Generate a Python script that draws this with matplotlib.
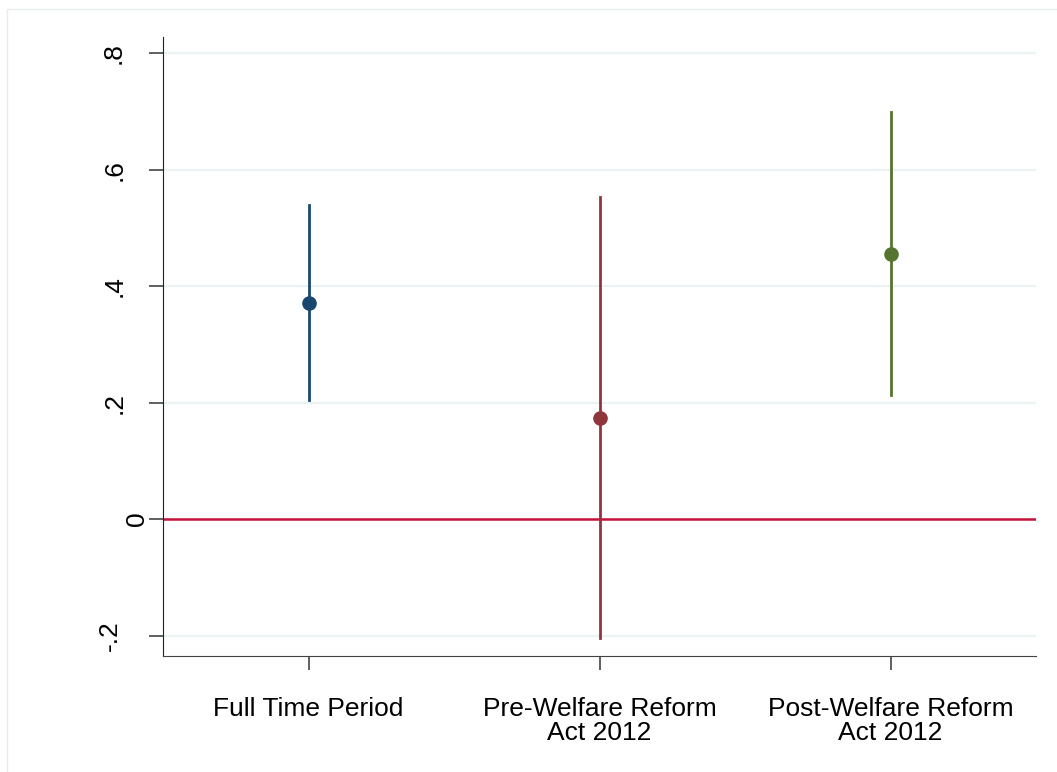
import numpy as np
import matplotlib
matplotlib.use("Agg")
import matplotlib.pyplot as plt
import matplotlib.transforms as mtransforms
from matplotlib.patches import Rectangle

# coefficient estimates with 95% CI
periods = ["Full Time Period", "Pre-Welfare Reform\nAct 2012", "Post-Welfare Reform\nAct 2012"]
coef = [0.371, 0.174, 0.456]
ci_low = [0.204, -0.204, 0.214]
ci_high = [0.539, 0.553, 0.699]
colors = ["#1a476f", "#90353b", "#55752f"]

yticks = [-0.2, 0, 0.2, 0.4, 0.6, 0.8]
ytick_labels = ["-.2", "0", ".2", ".4", ".6", ".8"]
# stata puts rotated labels a bit unevenly, distance from axis in px
ylab_gap = [41, 14, 36, 36, 36, 37]

plt.rcParams["font.family"] = ["Liberation Sans", "DejaVu Sans"]

fig = plt.figure(figsize=(10.57, 7.72), dpi=100)
fig.patches.append(Rectangle((7/1057, -0.05), 1.1, 1 - 9/772 + 0.05, transform=fig.transFigure,
                             fill=False, edgecolor="#e8ecee", linewidth=1.0))
ax = fig.add_axes([163/1057, 116/772, (1036 - 163)/1057, (656 - 37)/772])

x = np.arange(1, len(periods) + 1)

for yt in yticks:
    ax.axhline(yt, color="#eaf2f3", linewidth=1.6, zorder=0)
ax.axhline(0, color="#c8103c", linewidth=1.8, zorder=1)

for i in range(len(periods)):
    ax.plot([x[i], x[i]], [ci_low[i], ci_high[i]], color=colors[i], linewidth=2.0, zorder=2)
    ax.plot(x[i], coef[i], "o", color=colors[i], markersize=9.5, zorder=3)

ax.set_xlim(0.5, 3.5)
ax.set_ylim(-0.235, 0.828)
ax.set_xticks(x)
ax.set_xticklabels(periods, fontsize=19, linespacing=0.98)
ax.set_yticks(yticks)
ax.set_yticklabels([])

# y labels drawn by hand so each one can sit where stata put it
for yt, lab, gap in zip(yticks, ytick_labels, ylab_gap):
    tr = mtransforms.offset_copy(ax.get_yaxis_transform(), fig=fig, x=-gap, y=0, units="dots")
    ax.text(0, yt, lab, transform=tr, fontsize=19, rotation=90, ha="right", va="center")

ax.spines["top"].set_visible(False)
ax.spines["right"].set_visible(False)
ax.spines["left"].set_color("#222222")
ax.spines["bottom"].set_color("#444444")
ax.tick_params(axis="both", length=10, width=1.2, color="#444444")
ax.tick_params(axis="x", pad=19.8)

fig.savefig("out.png", dpi=100, facecolor="white")
